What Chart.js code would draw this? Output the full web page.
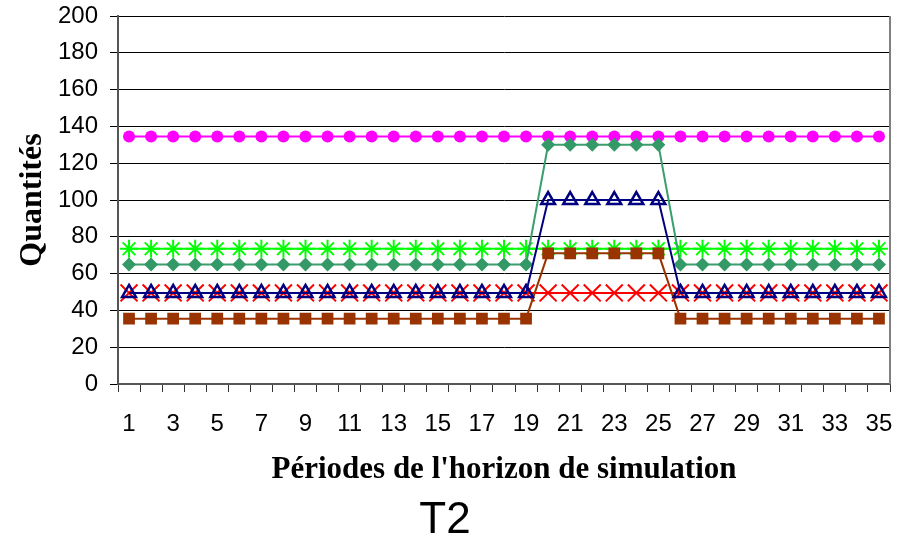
<!DOCTYPE html>
<html>
<head>
<meta charset="utf-8">
<script src="https://cdn.jsdelivr.net/npm/chart.js@4"></script>
<style>
  html, body { margin: 0; padding: 0; background: #fff; }
  #wrap { width: 905px; height: 543px; }
</style>
</head>
<body>
<div id="wrap"><canvas id="myChart" width="905" height="543"></canvas></div>
<script>
const periodes = [];
for (let i = 1; i <= 35; i++) periodes.push(String(i));

// valeurs (périodes 1..35)
const serieCercles = [134.5,134.5,134.5,134.5,134.5,134.5,134.5,134.5,134.5,134.5,134.5,134.5,134.5,134.5,134.5,134.5,134.5,134.5,134.5,134.5,134.5,134.5,134.5,134.5,134.5,134.5,134.5,134.5,134.5,134.5,134.5,134.5,134.5,134.5,134.5];
const serieEtoiles = [73.5,73.5,73.5,73.5,73.5,73.5,73.5,73.5,73.5,73.5,73.5,73.5,73.5,73.5,73.5,73.5,73.5,73.5,73.5,73.5,73.5,73.5,73.5,73.5,73.5,73.5,73.5,73.5,73.5,73.5,73.5,73.5,73.5,73.5,73.5];
const serieLosanges = [65,65,65,65,65,65,65,65,65,65,65,65,65,65,65,65,65,65,65,130,130,130,130,130,130,65,65,65,65,65,65,65,65,65,65];
const serieCroix = [49.5,49.5,49.5,49.5,49.5,49.5,49.5,49.5,49.5,49.5,49.5,49.5,49.5,49.5,49.5,49.5,49.5,49.5,49.5,49.5,49.5,49.5,49.5,49.5,49.5,49.5,49.5,49.5,49.5,49.5,49.5,49.5,49.5,49.5,49.5];
const serieTriangles = [49.5,49.5,49.5,49.5,49.5,49.5,49.5,49.5,49.5,49.5,49.5,49.5,49.5,49.5,49.5,49.5,49.5,49.5,49.5,100,100,100,100,100,100,49.5,49.5,49.5,49.5,49.5,49.5,49.5,49.5,49.5,49.5];
const serieCarres = [35.5,35.5,35.5,35.5,35.5,35.5,35.5,35.5,35.5,35.5,35.5,35.5,35.5,35.5,35.5,35.5,35.5,35.5,35.5,71,71,71,71,71,71,35.5,35.5,35.5,35.5,35.5,35.5,35.5,35.5,35.5,35.5];

const datasets = [
  {
    data: serieCercles, order: 6,
    borderColor: "#ff00ff", backgroundColor: "#ff00ff", borderWidth: 2,
    pointStyle: "circle", pointRadius: 6, pointBorderWidth: 0,
  },
  {
    data: serieEtoiles, order: 5,
    borderColor: "#00ff00", backgroundColor: "#00ff00", borderWidth: 2,
    pointStyle: "star", pointRadius: 9, pointBorderWidth: 2,
  },
  {
    data: serieLosanges, order: 3,
    borderColor: "#3a9e6e", backgroundColor: "#339966", borderWidth: 2,
    pointStyle: "rectRot", pointRadius: 7, pointBorderWidth: 0,
  },
  {
    data: serieCroix, order: 4,
    borderColor: "#ff0000", backgroundColor: "#ff0000", borderWidth: 2,
    pointStyle: "crossRot", pointRadius: 12, pointBorderWidth: 2,
  },
  {
    data: serieTriangles, order: 1,
    borderColor: "#000080", backgroundColor: "rgba(0,0,0,0)", borderWidth: 2,
    pointStyle: "triangle", pointRadius: 8, pointBorderWidth: 2.5,
  },
  {
    data: serieCarres, order: 2,
    borderColor: "#993300", backgroundColor: "#993300", borderWidth: 2,
    pointStyle: "rect", pointRadius: 8.3, pointBorderWidth: 0,
  },
];

const cadreDroit = {
  id: "cadreDroit",
  afterDraw(chart) {
    const { ctx, chartArea } = chart;
    ctx.save();
    ctx.strokeStyle = "#808080";
    ctx.lineWidth = 2;
    ctx.beginPath();
    ctx.moveTo(chartArea.right, chartArea.top);
    ctx.lineTo(chartArea.right, chartArea.bottom);
    ctx.stroke();
    ctx.restore();
  },
};

const config = {
  type: "line",
  data: { labels: periodes, datasets },
  options: {
    responsive: false,
    animation: false,
    layout: { padding: { left: 0, right: 15, top: 16, bottom: 0 } },
    plugins: {
      legend: { display: false },
      tooltip: { enabled: false },
      title: {
        display: true,
        text: "T2",
        position: "bottom",
        color: "#000",
        font: { family: "Liberation Sans, Arial", size: 44, weight: "normal", lineHeight: 1 },
        padding: { top: 0, bottom: 0 },
      },
    },
    scales: {
      x: {
        offset: true,
        afterFit: (s) => { s.height = 115; s.paddingLeft = 0; s.paddingRight = 0; },
        grid: { offset: true, drawOnChartArea: false, drawTicks: true, tickLength: 8, color: "#333", lineWidth: 1 },
        border: { color: "#555", width: 2 },
        ticks: {
          autoSkip: false, maxRotation: 0, padding: 18, color: "#000",
          font: { family: "Liberation Sans, Arial", size: 24 },
          callback: function (v, i) { return i % 2 === 0 ? this.getLabelForValue(v) : ""; },
        },
        title: {
          display: true,
          text: "Périodes de l'horizon de simulation",
          color: "#000",
          font: { family: "Liberation Serif, Times New Roman", size: 31, weight: "bold" },
          padding: { top: 0, bottom: 10 },
        },
      },
      y: {
        min: 0, max: 200,
        afterFit: (s) => { s.width = 118; s.paddingTop = 0; s.paddingBottom = 0; },
        grid: { color: "#000", lineWidth: 1, tickLength: 8 },
        border: { color: "#555", width: 2 },
        ticks: {
          stepSize: 20, padding: 12, color: "#000",
          font: { family: "Liberation Sans, Arial", size: 24 },
        },
        title: {
          display: true,
          text: "Quantités",
          color: "#000",
          font: { family: "Liberation Serif, Times New Roman", size: 32, weight: "bold" },
          padding: { top: 14, bottom: 0 },
        },
      },
    },
  },
  plugins: [cadreDroit],
};

const myChart = new Chart(document.querySelector("#myChart"), config);
</script>
</body>
</html>
